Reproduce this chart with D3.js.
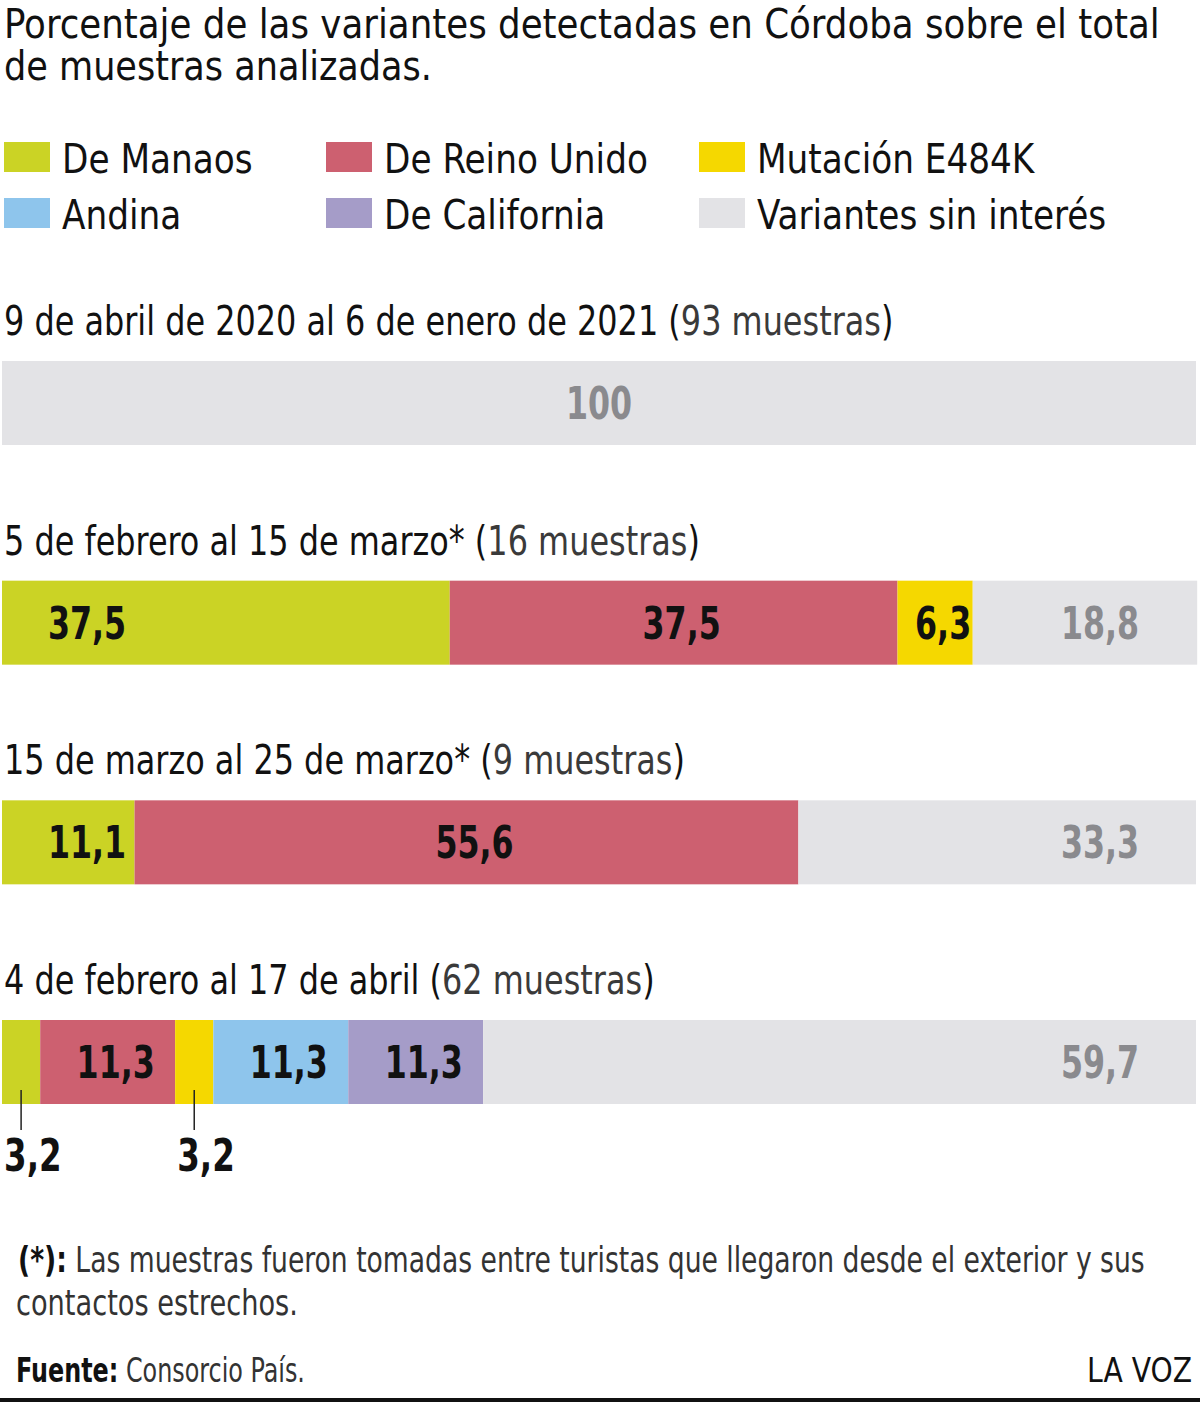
<!DOCTYPE html>
<html lang="es">
<head>
<meta charset="UTF-8">
<script src="https://d3js.org/d3.v7.min.js"></script>
<title>Variantes en Córdoba</title>
<style>
  body { margin: 0; background: #fff; }
  svg { font-family: "Liberation Sans Narrow", "DejaVu Sans Condensed", "Roboto", sans-serif; }
</style>
</head>
<body>
<svg id="chart" width="1200" height="1402"></svg>
<script>
// data
var categories = ["De Manaos", "De Reino Unido", "Mutación E484K", "Andina", "De California", "Variantes sin interés"];
var colors = ["#cbd325", "#cd6070", "#f5d800", "#8ec5ec", "#a59cc8", "#e3e3e6"];
var periods = ["9 de abril de 2020 al 6 de enero de 2021", "5 de febrero al 15 de marzo*", "15 de marzo al 25 de marzo*", "4 de febrero al 17 de abril"];
var sampleCounts = [93, 16, 9, 62];
var manaos = [0, 37.5, 11.1, 3.2];
var reinoUnido = [0, 37.5, 55.6, 11.3];
var e484k = [0, 6.3, 0, 3.2];
var andina = [0, 0, 0, 11.3];
var california = [0, 0, 0, 11.3];
var sinInteres = [100, 18.8, 33.3, 59.7];

var series = [manaos, reinoUnido, e484k, andina, california, sinInteres];

var svg = d3.select("#chart");
var ink = "#111";

// the original face is a narrow grotesque: squeeze the installed one horizontally
function put(parent, txt, x0, y0, size, k, opts) {
  opts = opts || {};
  return parent.append("text")
    .attr("transform", "translate(" + x0 + "," + y0 + ") scale(" + k + ",1)")
    .attr("font-size", size)
    .attr("font-weight", opts.bold ? "bold" : null)
    .attr("text-anchor", opts.anchor || null)
    .attr("fill", opts.fill || ink)
    .style("white-space", "pre")
    .text(txt);
}

// a line made of pieces with their own weight/colour, squeezed by k or to a total width
function line(parts, x0, y0, size, k, total) {
  var nodes = parts.map(function(p) { return put(svg, p.t, 0, y0, size, 1, p); });
  var widths = nodes.map(function(n) { return n.node().getComputedTextLength(); });
  if (total) k = total / d3.sum(widths);
  var cx = x0;
  nodes.forEach(function(n, i) {
    n.attr("transform", "translate(" + cx + "," + y0 + ") scale(" + k + ",1)");
    cx += widths[i] * k;
  });
}

// decimal comma
var es = d3.formatLocale({decimal: ",", thousands: ".", grouping: [3], currency: ["$", ""]});
var fmt = function(v) { return v % 1 === 0 ? String(v) : es.format(".1f")(v); };

// title
line([{t: "Porcentaje de las variantes detectadas en Córdoba sobre el total"}], 4, 38, 41, 1, 1156);
line([{t: "de muestras analizadas."}], 4, 80, 41, 1, 428);

// legend
var legend = svg.append("g");
var legCols = [4, 326, 699];
categories.forEach(function(c, i) {
  var lx = legCols[i % 3], ly = 142 + Math.floor(i / 3) * 56;
  legend.append("rect").attr("x", lx).attr("y", ly).attr("width", 46).attr("height", 30).attr("fill", colors[i]);
  put(legend, c, lx + 58, ly + 31, 41, 0.93);
});

// scales
var x = d3.scaleLinear().domain([0, 100]).range([2, 1196]);
var y = d3.scalePoint().domain(periods).range([361, 1020]);
var barH = 84;

var rows = periods.map(function(p, r) {
  var o = {period: p};
  categories.forEach(function(c, i) { o[c] = series[i][r]; });
  return o;
});
var stacked = d3.stack().keys(categories)(rows);

// period labels
periods.forEach(function(p, r) {
  line([{t: p + " ("}, {t: sampleCounts[r] + " muestras", fill: "#3a3a3a"}, {t: ")"}],
    4, y(p) - 26, 41, 0.865);
});

// bars
var layer = svg.append("g").selectAll("g").data(stacked).join("g")
  .attr("fill", function(d, i) { return colors[i]; });

layer.selectAll("rect").data(function(d) { return d; }).join("rect")
  .attr("x", function(d) { return x(d[0]); })
  .attr("width", function(d) { return x(d[1]) - x(d[0]); })
  .attr("y", function(d) { return y(d.data.period); })
  .attr("height", barH);

// value labels
var labels = svg.append("g");
stacked.forEach(function(s, si) {
  s.forEach(function(d, r) {
    var v = d[1] - d[0];
    if (v <= 0) return;
    var x0 = x(d[0]), x1 = x(d[1]), top = y(d.data.period);
    var gray = si === categories.length - 1;
    var ty = top + barH / 2 + 16;
    if (x1 - x0 < 50) {
      // too thin: label below with a leader
      var cx = (x0 + x1) / 2;
      svg.append("line").attr("x1", cx).attr("x2", cx)
        .attr("y1", top + barH - 14).attr("y2", top + barH + 26)
        .attr("stroke", "#222").attr("stroke-width", 1.5);
      put(labels, fmt(v), cx - 17, top + barH + 67, 44, 0.82, {bold: true});
    } else if (gray) {
      if (d[0] === 0) put(labels, fmt(v), (x0 + x1) / 2, ty, 44, 0.8, {bold: true, fill: "#8a8a8e", anchor: "middle"});
      else put(labels, fmt(v), x(100) - 57, ty, 44, 0.8, {bold: true, fill: "#8a8a8e", anchor: "end"});
    } else if (si === 0) {
      put(labels, fmt(v), x0 + 46, ty, 44, 0.8, {bold: true});
    } else {
      put(labels, fmt(v), (x0 + x1) / 2 + 8, ty, 44, 0.8, {bold: true, anchor: "middle"});
    }
  });
});

// footnote
line([{t: "(*):", bold: true}, {t: " Las muestras fueron tomadas entre turistas que llegaron desde el exterior y sus", fill: "#333"}],
  18, 1272, 35, 1, 1127);
line([{t: "contactos estrechos.", fill: "#333"}], 16, 1315, 35, 1, 282);
line([{t: "Fuente:", bold: true}, {t: " Consorcio País.", fill: "#333"}], 16, 1382, 34, 1, 289);
line([{t: "LA VOZ"}], 1087, 1382, 34, 1, 105);

svg.append("rect").attr("x", 0).attr("y", 1398).attr("width", 1200).attr("height", 4).attr("fill", ink);
</script>
</body>
</html>
